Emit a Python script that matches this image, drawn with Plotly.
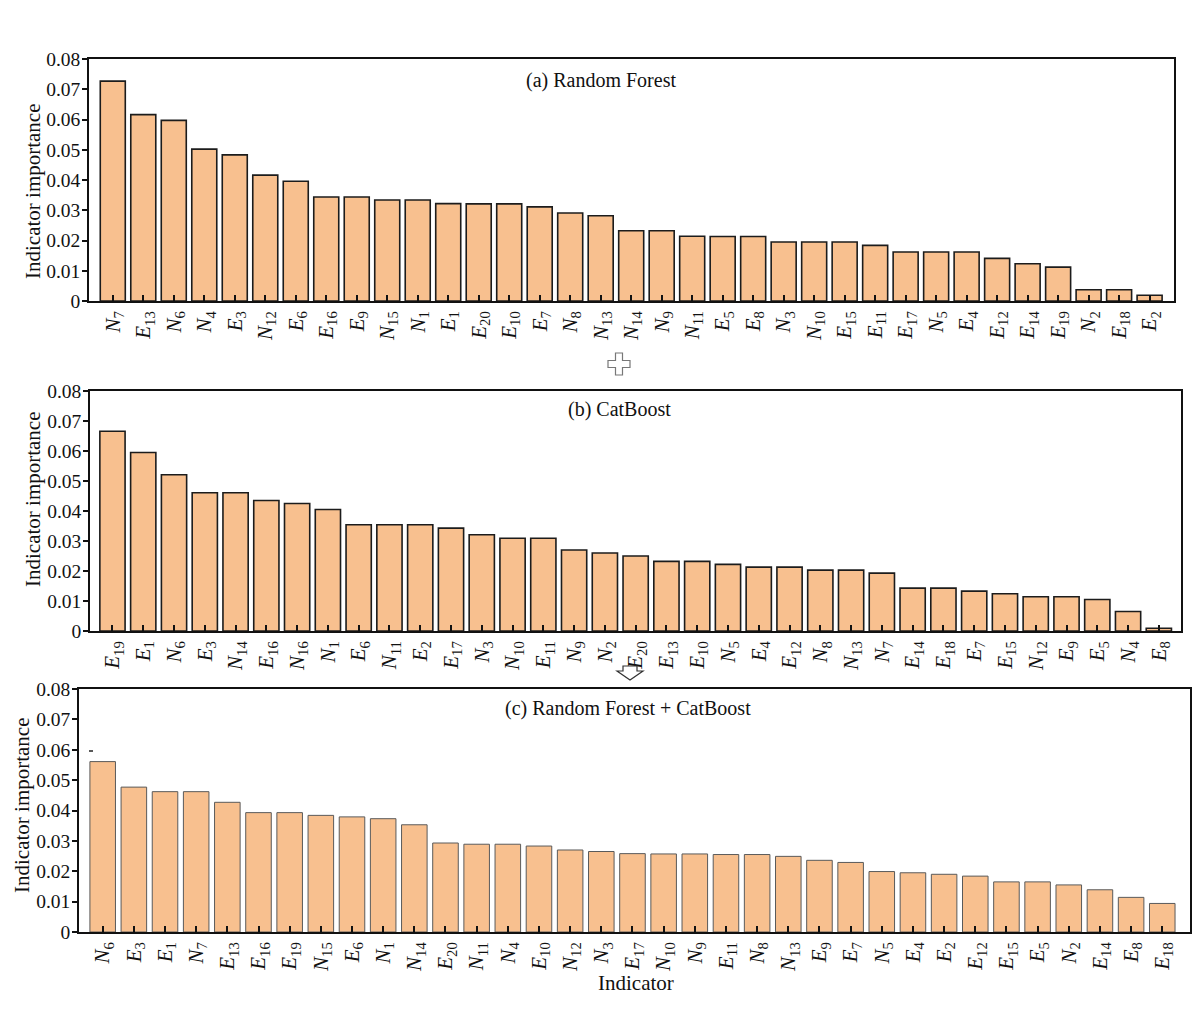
import plotly.graph_objects as go

# (a) Random Forest
rf_labels = ["N7", "E13", "N6", "N4", "E3", "N12", "E6", "E16", "E9", "N15", "N1", "E1",
             "E20", "E10", "E7", "N8", "N13", "N14", "N9", "N11", "E5", "E8", "N3", "N10",
             "E15", "E11", "E17", "N5", "E4", "E12", "E14", "E19", "N2", "E18", "E2"]
rf_values = [0.0727, 0.0616, 0.0597, 0.0502, 0.0483, 0.0416, 0.0396, 0.0344, 0.0344, 0.0334,
             0.0334, 0.0322, 0.0321, 0.0321, 0.0311, 0.0291, 0.0282, 0.0232, 0.0232, 0.0214,
             0.0213, 0.0213, 0.0195, 0.0195, 0.0195, 0.0184, 0.0162, 0.0162, 0.0162, 0.0141,
             0.0123, 0.0112, 0.0037, 0.0037, 0.0019]

# (b) CatBoost
cb_labels = ["E19", "E1", "N6", "E3", "N14", "E16", "N16", "N1", "E6", "N11", "E2", "E17",
             "N3", "N10", "E11", "N9", "N2", "E20", "E13", "E10", "N5", "E4", "E12", "N8",
             "N13", "N7", "E14", "E18", "E7", "E15", "N12", "E9", "E5", "N4", "E8"]
cb_values = [0.0666, 0.0595, 0.0521, 0.0461, 0.0461, 0.0435, 0.0425, 0.0405, 0.0354, 0.0354,
             0.0354, 0.0343, 0.0321, 0.0309, 0.0309, 0.0270, 0.0260, 0.0250, 0.0232, 0.0232,
             0.0222, 0.0213, 0.0213, 0.0203, 0.0203, 0.0193, 0.0143, 0.0143, 0.0133, 0.0124,
             0.0114, 0.0114, 0.0105, 0.0065, 0.0009]

# (c) Random Forest + CatBoost
mix_labels = ["N6", "E3", "E1", "N7", "E13", "E16", "E19", "N15", "E6", "N1", "N14", "E20",
              "N11", "N4", "E10", "N12", "N3", "E17", "N10", "N9", "E11", "N8", "N13", "E9",
              "E7", "N5", "E4", "E2", "E12", "E15", "E5", "N2", "E14", "E8", "E18"]
mix_values = [0.0561, 0.0477, 0.0462, 0.0462, 0.0427, 0.0393, 0.0393, 0.0384, 0.0379, 0.0373,
              0.0353, 0.0293, 0.0289, 0.0289, 0.0283, 0.0270, 0.0265, 0.0258, 0.0257, 0.0257,
              0.0255, 0.0255, 0.0249, 0.0236, 0.0229, 0.0199, 0.0195, 0.0190, 0.0184, 0.0165,
              0.0165, 0.0155, 0.0139, 0.0114, 0.0094]

panel_titles = ["(a) Random Forest", "(b) CatBoost", "(c) Random Forest + CatBoost"]

W, H = 1200, 1018
FONT = "Liberation Serif, Times New Roman, serif"
BAR = "#F8C08F"


def px(x):
    return x / W


def py(y):
    return 1 - y / H


def tick_text(lab):
    return "<i>%s</i><sub>%s</sub>" % (lab[0], lab[1:])


# pixel boxes: left, right, top, bottom, x-range pad left/right
boxes = [
    (89, 1174, 59, 301, -0.78, 34.8),
    (90, 1181, 391, 631, -0.73, 34.72),
    (79, 1190, 689, 932, -0.76, 34.89),
]
series = [(rf_labels, rf_values), (cb_labels, cb_values), (mix_labels, mix_values)]
edges = [("#1c1c1c", 1.6), ("#1c1c1c", 1.6), ("#5a5a5a", 1.0)]

fig = go.Figure()
layout = dict(
    width=W, height=H, margin=dict(l=0, r=0, t=0, b=0),
    paper_bgcolor="white", plot_bgcolor="white", showlegend=False,
    font=dict(family=FONT, size=19, color="#111"),
)

for i, ((labs, vals), box, edge) in enumerate(zip(series, boxes, edges)):
    n = i + 1
    l, r, t, b, x0, x1 = box
    idx = list(range(len(labs)))
    fig.add_trace(go.Bar(
        x=idx, y=vals, xaxis="x%d" % n, yaxis="y%d" % n,
        marker=dict(color=BAR, line=dict(color=edge[0], width=edge[1])),
        width=0.82,
    ))
    layout["xaxis%d" % n] = dict(
        domain=[px(l), px(r)], anchor="y%d" % n, range=[x0, x1],
        tickmode="array", tickvals=idx, ticktext=[tick_text(s) for s in labs],
        tickangle=-90, ticks="inside", ticklen=6, tickwidth=1.5, tickcolor="#111",
        showline=True, mirror=True, linecolor="#111", linewidth=1.6,
        showgrid=False, zeroline=False, automargin=False,
        tickfont=dict(family=FONT, size=21, color="#111"),
    )
    layout["yaxis%d" % n] = dict(
        domain=[py(b), py(t)], anchor="x%d" % n, range=[0, 0.08], dtick=0.01,
        ticks="outside", ticklen=5, tickwidth=1.5, tickcolor="#111",
        showline=True, mirror=True, linecolor="#111", linewidth=1.6,
        showgrid=False, zeroline=False, automargin=False, ticklabelstandoff=-2,
        tickfont=dict(family=FONT, size=19.5, color="#111"),
    )

fig.update_layout(**layout)

# panel titles and axis titles
title_pos = [(601, 80), (619, 410), (628, 708)]
ytitle_pos = [(33, 191), (33, 499), (22, 805)]
for txt, (x, y) in zip(panel_titles, title_pos):
    fig.add_annotation(text=txt, x=px(x), y=py(y), xref="paper", yref="paper",
                       xanchor="center", yanchor="middle", showarrow=False,
                       font=dict(family=FONT, size=20, color="#111"))
for x, y in ytitle_pos:
    fig.add_annotation(text="Indicator importance", x=px(x), y=py(y), xref="paper", yref="paper",
                       xanchor="center", yanchor="middle", textangle=-90, showarrow=False,
                       font=dict(family=FONT, size=21, color="#111"))
fig.add_annotation(text="Indicator", x=px(636), y=py(983), xref="paper", yref="paper",
                   xanchor="center", yanchor="middle", showarrow=False,
                   font=dict(family=FONT, size=21, color="#111"))


def path(points):
    return "M " + " L ".join("%f,%f" % (px(a), py(c)) for a, c in points) + " Z"


# outlined plus sign between (a) and (b)
cx, cy, a, h = 619, 364, 3.5, 11
plus = [(cx - a, cy - h), (cx + a, cy - h), (cx + a, cy - a), (cx + h, cy - a), (cx + h, cy + a),
        (cx + a, cy + a), (cx + a, cy + h), (cx - a, cy + h), (cx - a, cy + a), (cx - h, cy + a),
        (cx - h, cy - a), (cx - a, cy - a)]
fig.add_shape(type="path", path=path(plus), xref="paper", yref="paper",
              line=dict(color="#777", width=1.2), fillcolor="white")

# outlined down arrow between (b) and (c)
arrow = [(623, 666), (637, 666), (637, 671), (643, 671), (630, 680), (617, 671), (623, 671)]
fig.add_shape(type="path", path=path(arrow), xref="paper", yref="paper",
              line=dict(color="#333", width=1.2), fillcolor="white")

# small stray tick mark near 0.06 in panel (c)
fig.add_shape(type="line", x0=px(89), x1=px(93), y0=py(751), y1=py(751), xref="paper", yref="paper",
              line=dict(color="#222", width=1.5))

fig.write_html("out.html", config={"displayModeBar": False},
               post_script="document.body.style.margin='0px';")
